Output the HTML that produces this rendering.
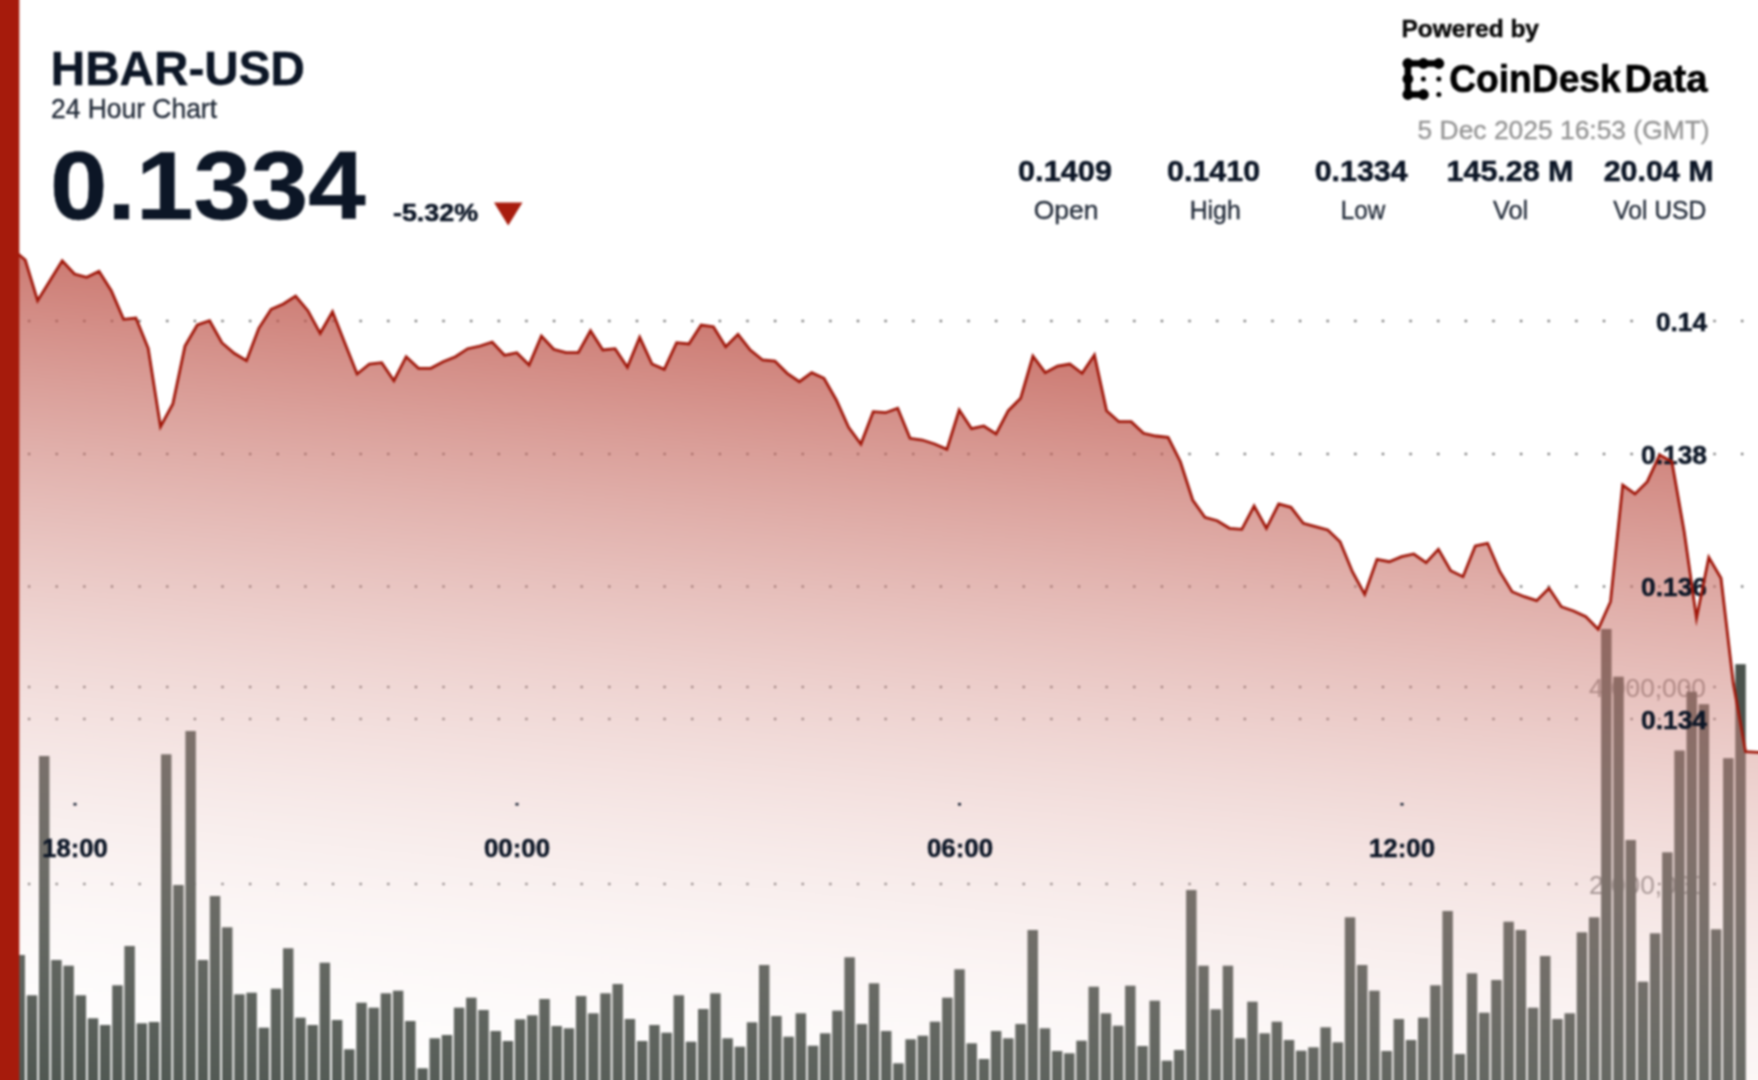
<!DOCTYPE html>
<html><head><meta charset="utf-8"><title>HBAR-USD</title>
<style>
html,body{margin:0;padding:0;background:#fff;}
body{width:1758px;height:1080px;overflow:hidden;font-family:"Liberation Sans",sans-serif;}
svg{display:block;position:absolute;left:-12px;top:-12px;filter:blur(0.85px);}
body{position:relative;}
text{font-family:"Liberation Sans",sans-serif;}
.b{font-weight:bold;}
.navy{fill:#0c1626;stroke:#0c1626;stroke-width:0.5px;}
.reg{fill:#222b39;stroke:#222b39;stroke-width:0.35px;}
</style></head><body>
<svg width="1782" height="1104" viewBox="-12 -12 1782 1104">
<defs>
<linearGradient id="ag" gradientUnits="userSpaceOnUse" x1="1758" y1="187" x2="1648.6" y2="1281">
<stop offset="0" stop-color="rgb(168,28,14)" stop-opacity="0.95"/>
<stop offset="1" stop-color="rgb(255,255,255)" stop-opacity="0"/>
</linearGradient>
</defs>
<rect x="-12" y="-12" width="1782" height="1104" fill="#fff"/>
<!-- grid -->
<g stroke="#666" stroke-width="2.5" stroke-linecap="round" stroke-dasharray="0.01 27.62" fill="none">
<path d="M29.1,321 H1772"/><path d="M29.1,454 H1772"/><path d="M29.1,586.5 H1772"/><path d="M29.1,719 H1772"/>
<path d="M29.1,687 H1772"/><path d="M29.1,884 H1772"/>
</g>
<!-- volume labels -->
<g fill="#8d8d8d" font-size="26" text-anchor="end">
<text x="1706" y="696.5" textLength="117" lengthAdjust="spacingAndGlyphs">4,000,000</text>
<text x="1706" y="893.5" textLength="117" lengthAdjust="spacingAndGlyphs">2,000,000</text>
</g>
<!-- bars -->
<g fill="#4a524c"><rect x="14.5" y="955" width="10.45" height="139"/><rect x="26.8" y="995.3" width="10.45" height="98.7"/><rect x="39" y="756" width="10.45" height="338"/><rect x="51.2" y="960" width="10.45" height="134"/><rect x="63.4" y="965.7" width="10.45" height="128.3"/><rect x="75.6" y="995.3" width="10.45" height="98.7"/><rect x="87.8" y="1018.3" width="10.45" height="75.7"/><rect x="100" y="1025" width="10.45" height="69"/><rect x="112.2" y="985.3" width="10.45" height="108.7"/><rect x="124.4" y="946" width="10.45" height="148"/><rect x="136.6" y="1023.3" width="10.45" height="70.7"/><rect x="148.8" y="1022" width="10.45" height="72"/><rect x="161" y="754.3" width="10.45" height="339.7"/><rect x="173.2" y="885" width="10.45" height="209"/><rect x="185.4" y="731" width="10.45" height="363"/><rect x="197.6" y="960" width="10.45" height="134"/><rect x="209.8" y="896" width="10.45" height="198"/><rect x="222" y="927.3" width="10.45" height="166.7"/><rect x="234.2" y="994.3" width="10.45" height="99.7"/><rect x="246.4" y="992.7" width="10.45" height="101.3"/><rect x="258.6" y="1027.7" width="10.45" height="66.3"/><rect x="270.8" y="988.7" width="10.45" height="105.3"/><rect x="283" y="948.3" width="10.45" height="145.7"/><rect x="295.2" y="1017.7" width="10.45" height="76.3"/><rect x="307.4" y="1025" width="10.45" height="69"/><rect x="319.6" y="962.7" width="10.45" height="131.3"/><rect x="331.9" y="1020" width="10.45" height="74"/><rect x="344.1" y="1049.3" width="10.45" height="44.7"/><rect x="356.3" y="1002.7" width="10.45" height="91.3"/><rect x="368.5" y="1007.7" width="10.45" height="86.3"/><rect x="380.7" y="993.3" width="10.45" height="100.7"/><rect x="392.9" y="990.7" width="10.45" height="103.3"/><rect x="405.1" y="1021" width="10.45" height="73"/><rect x="417.3" y="1068.3" width="10.45" height="25.7"/><rect x="429.5" y="1038.3" width="10.45" height="55.7"/><rect x="441.7" y="1035" width="10.45" height="59"/><rect x="453.9" y="1007.7" width="10.45" height="86.3"/><rect x="466.1" y="997.7" width="10.45" height="96.3"/><rect x="478.3" y="1010" width="10.45" height="84"/><rect x="490.5" y="1031" width="10.45" height="63"/><rect x="502.7" y="1041" width="10.45" height="53"/><rect x="514.9" y="1019.3" width="10.45" height="74.7"/><rect x="527.1" y="1015.3" width="10.45" height="78.7"/><rect x="539.3" y="999" width="10.45" height="95"/><rect x="551.5" y="1026" width="10.45" height="68"/><rect x="563.7" y="1028.3" width="10.45" height="65.7"/><rect x="575.9" y="996" width="10.45" height="98"/><rect x="588.1" y="1013.3" width="10.45" height="80.7"/><rect x="600.3" y="993.3" width="10.45" height="100.7"/><rect x="612.5" y="984" width="10.45" height="110"/><rect x="624.7" y="1019" width="10.45" height="75"/><rect x="637" y="1041" width="10.45" height="53"/><rect x="649.2" y="1025" width="10.45" height="69"/><rect x="661.4" y="1032.7" width="10.45" height="61.3"/><rect x="673.6" y="995.3" width="10.45" height="98.7"/><rect x="685.8" y="1041.7" width="10.45" height="52.3"/><rect x="698" y="1009" width="10.45" height="85"/><rect x="710.2" y="993.3" width="10.45" height="100.7"/><rect x="722.4" y="1038.3" width="10.45" height="55.7"/><rect x="734.6" y="1046.7" width="10.45" height="47.3"/><rect x="746.8" y="1022.3" width="10.45" height="71.7"/><rect x="759" y="965" width="10.45" height="129"/><rect x="771.2" y="1016" width="10.45" height="78"/><rect x="783.4" y="1036.7" width="10.45" height="57.3"/><rect x="795.6" y="1013.3" width="10.45" height="80.7"/><rect x="807.8" y="1045.7" width="10.45" height="48.3"/><rect x="820" y="1033.3" width="10.45" height="60.7"/><rect x="832.2" y="1010.7" width="10.45" height="83.3"/><rect x="844.4" y="957.3" width="10.45" height="136.7"/><rect x="856.6" y="1024" width="10.45" height="70"/><rect x="868.8" y="983.3" width="10.45" height="110.7"/><rect x="881" y="1031" width="10.45" height="63"/><rect x="893.2" y="1063.3" width="10.45" height="30.7"/><rect x="905.4" y="1039.3" width="10.45" height="54.7"/><rect x="917.6" y="1035.7" width="10.45" height="58.3"/><rect x="929.8" y="1021.7" width="10.45" height="72.3"/><rect x="942.1" y="997.7" width="10.45" height="96.3"/><rect x="954.3" y="969.3" width="10.45" height="124.7"/><rect x="966.5" y="1043.3" width="10.45" height="50.7"/><rect x="978.7" y="1059" width="10.45" height="35"/><rect x="990.9" y="1031" width="10.45" height="63"/><rect x="1003.1" y="1038.3" width="10.45" height="55.7"/><rect x="1015.3" y="1024" width="10.45" height="70"/><rect x="1027.5" y="930" width="10.45" height="164"/><rect x="1039.7" y="1028.3" width="10.45" height="65.7"/><rect x="1051.9" y="1051" width="10.45" height="43"/><rect x="1064.1" y="1053.3" width="10.45" height="40.7"/><rect x="1076.3" y="1040.7" width="10.45" height="53.3"/><rect x="1088.5" y="986.7" width="10.45" height="107.3"/><rect x="1100.7" y="1013.3" width="10.45" height="80.7"/><rect x="1112.9" y="1025.7" width="10.45" height="68.3"/><rect x="1125.1" y="985.7" width="10.45" height="108.3"/><rect x="1137.3" y="1046" width="10.45" height="48"/><rect x="1149.5" y="1000.7" width="10.45" height="93.3"/><rect x="1161.7" y="1060.7" width="10.45" height="33.3"/><rect x="1173.9" y="1050" width="10.45" height="44"/><rect x="1186.1" y="890" width="10.45" height="204"/><rect x="1198.3" y="965.7" width="10.45" height="128.3"/><rect x="1210.5" y="1009.3" width="10.45" height="84.7"/><rect x="1222.7" y="965.7" width="10.45" height="128.3"/><rect x="1234.9" y="1038.3" width="10.45" height="55.7"/><rect x="1247.2" y="1001.7" width="10.45" height="92.3"/><rect x="1259.4" y="1033.3" width="10.45" height="60.7"/><rect x="1271.6" y="1021.7" width="10.45" height="72.3"/><rect x="1283.8" y="1040" width="10.45" height="54"/><rect x="1296" y="1050.7" width="10.45" height="43.3"/><rect x="1308.2" y="1047.3" width="10.45" height="46.7"/><rect x="1320.4" y="1027.3" width="10.45" height="66.7"/><rect x="1332.6" y="1042.3" width="10.45" height="51.7"/><rect x="1344.8" y="917.3" width="10.45" height="176.7"/><rect x="1357" y="965" width="10.45" height="129"/><rect x="1369.2" y="990.7" width="10.45" height="103.3"/><rect x="1381.4" y="1051" width="10.45" height="43"/><rect x="1393.6" y="1019" width="10.45" height="75"/><rect x="1405.8" y="1040" width="10.45" height="54"/><rect x="1418" y="1017.7" width="10.45" height="76.3"/><rect x="1430.2" y="985.3" width="10.45" height="108.7"/><rect x="1442.4" y="911" width="10.45" height="183"/><rect x="1454.6" y="1054" width="10.45" height="40"/><rect x="1466.8" y="973.3" width="10.45" height="120.7"/><rect x="1479" y="1012.7" width="10.45" height="81.3"/><rect x="1491.2" y="980" width="10.45" height="114"/><rect x="1503.4" y="921.7" width="10.45" height="172.3"/><rect x="1515.6" y="930" width="10.45" height="164"/><rect x="1527.8" y="1007.7" width="10.45" height="86.3"/><rect x="1540" y="956" width="10.45" height="138"/><rect x="1552.2" y="1019" width="10.45" height="75"/><rect x="1564.5" y="1013.3" width="10.45" height="80.7"/><rect x="1576.7" y="932.3" width="10.45" height="161.7"/><rect x="1588.9" y="917.3" width="10.45" height="176.7"/><rect x="1601.1" y="629" width="10.45" height="465"/><rect x="1613.3" y="676.7" width="10.45" height="417.3"/><rect x="1625.5" y="840" width="10.45" height="254"/><rect x="1637.7" y="981.7" width="10.45" height="112.3"/><rect x="1649.9" y="933.3" width="10.45" height="160.7"/><rect x="1662.1" y="852.3" width="10.45" height="241.7"/><rect x="1674.3" y="750.5" width="10.45" height="343.5"/><rect x="1686.5" y="691.7" width="10.45" height="402.3"/><rect x="1698.7" y="704.2" width="10.45" height="389.8"/><rect x="1710.9" y="929.3" width="10.45" height="164.7"/><rect x="1723.1" y="758.2" width="10.45" height="335.8"/><rect x="1735.3" y="664.2" width="10.45" height="429.8"/></g>
<!-- area -->
<path d="M14.5,251 L25.3,260 L37.6,300.7 L49.9,280.7 L62.2,260.7 L74.5,274 L86.7,277.3 L99,271.3 L111.3,290.7 L123.6,319.3 L135.9,318 L148.2,348.3 L160.5,426.7 L172.8,404 L185,346 L197.3,325 L209.6,320.7 L221.9,342.7 L234.2,353.3 L246.5,360.7 L258.8,328.3 L271.1,309.3 L283.3,304 L295.6,296 L307.9,310.7 L320.2,333.3 L332.5,311.7 L344.8,343 L357.1,374 L369.4,364 L381.7,362.7 L393.9,380.7 L406.2,356.7 L418.5,368.3 L430.8,368.3 L443.1,361.7 L455.4,356.7 L467.7,348.7 L480,346 L492.2,342 L504.5,355.3 L516.8,352.7 L529.1,365 L541.4,336 L553.7,349.3 L566,352.7 L578.3,352.7 L590.5,330.7 L602.8,350 L615.1,348.7 L627.4,367.3 L639.7,337.3 L652,364 L664.3,369.3 L676.6,342.7 L688.9,344 L701.1,325 L713.4,326.7 L725.7,346.7 L738,334.3 L750.3,350 L762.6,360 L774.9,361 L787.2,373.3 L799.4,381.7 L811.7,372.7 L824,378.3 L836.3,400 L848.6,427.3 L860.9,444 L873.2,411.7 L885.5,412.7 L897.7,408.3 L910,438.3 L922.3,440 L934.6,444 L946.9,449.3 L959.2,410 L971.5,428.7 L983.8,426 L996.1,434 L1008.3,410.7 L1020.6,398.3 L1032.9,356 L1045.2,372.7 L1057.5,366 L1069.8,364 L1082.1,373.3 L1094.4,355 L1106.6,410.7 L1118.9,421.7 L1131.2,421.7 L1143.5,433.3 L1155.8,436 L1168.1,437.3 L1180.4,461.7 L1192.7,500 L1204.9,517.3 L1217.2,520.7 L1229.5,528.3 L1241.8,529.3 L1254.1,506 L1266.4,528.3 L1278.7,504 L1291,507.3 L1303.3,523.3 L1315.5,526.7 L1327.8,530 L1340.1,541.7 L1352.4,571.7 L1364.7,594.3 L1377,559.3 L1389.3,561.7 L1401.6,556.7 L1413.8,554 L1426.1,562.7 L1438.4,549.3 L1450.7,570.7 L1463,576.7 L1475.3,546 L1487.6,543.3 L1499.9,571.7 L1512.1,591.7 L1524.4,596.7 L1536.7,600.7 L1549,588.3 L1561.3,606.7 L1573.6,611 L1585.9,616.7 L1598.2,629.3 L1610.5,601.7 L1622.7,485 L1635,494 L1647.3,481.7 L1659.6,455 L1671.9,461.7 L1684.2,531.7 L1696.5,618.3 L1708.8,557.3 L1721,578.3 L1733.3,683.3 L1745.6,751.7 L1757.9,752.3 L1772,752.3 L1772,1094 L14.5,1094 Z" fill="url(#ag)"/>
<!-- x ticks -->
<g fill="#101b2d"><rect x="73.5" y="803" width="3" height="2.5"/><rect x="515.5" y="803" width="3" height="2.5"/><rect x="958" y="803" width="3" height="2.5"/><rect x="1400.5" y="803" width="3" height="2.5"/></g>
<g class="b navy" font-size="26.6" text-anchor="middle">
<text x="75" y="856.5" textLength="65.5" lengthAdjust="spacingAndGlyphs">18:00</text>
<text x="517" y="856.5" textLength="66" lengthAdjust="spacingAndGlyphs">00:00</text>
<text x="960" y="856.5" textLength="66" lengthAdjust="spacingAndGlyphs">06:00</text>
<text x="1402" y="856.5" textLength="66" lengthAdjust="spacingAndGlyphs">12:00</text>
</g>
<!-- price labels -->
<g class="b navy" font-size="26" text-anchor="end">
<text x="1707" y="331" textLength="51" lengthAdjust="spacingAndGlyphs">0.14</text>
<text x="1707" y="463.5" textLength="66" lengthAdjust="spacingAndGlyphs">0.138</text>
<text x="1707" y="596" textLength="66" lengthAdjust="spacingAndGlyphs">0.136</text>
<text x="1707" y="728.5" textLength="66" lengthAdjust="spacingAndGlyphs">0.134</text>
</g>
<!-- line -->
<path d="M14.5,251 L25.3,260 L37.6,300.7 L49.9,280.7 L62.2,260.7 L74.5,274 L86.7,277.3 L99,271.3 L111.3,290.7 L123.6,319.3 L135.9,318 L148.2,348.3 L160.5,426.7 L172.8,404 L185,346 L197.3,325 L209.6,320.7 L221.9,342.7 L234.2,353.3 L246.5,360.7 L258.8,328.3 L271.1,309.3 L283.3,304 L295.6,296 L307.9,310.7 L320.2,333.3 L332.5,311.7 L344.8,343 L357.1,374 L369.4,364 L381.7,362.7 L393.9,380.7 L406.2,356.7 L418.5,368.3 L430.8,368.3 L443.1,361.7 L455.4,356.7 L467.7,348.7 L480,346 L492.2,342 L504.5,355.3 L516.8,352.7 L529.1,365 L541.4,336 L553.7,349.3 L566,352.7 L578.3,352.7 L590.5,330.7 L602.8,350 L615.1,348.7 L627.4,367.3 L639.7,337.3 L652,364 L664.3,369.3 L676.6,342.7 L688.9,344 L701.1,325 L713.4,326.7 L725.7,346.7 L738,334.3 L750.3,350 L762.6,360 L774.9,361 L787.2,373.3 L799.4,381.7 L811.7,372.7 L824,378.3 L836.3,400 L848.6,427.3 L860.9,444 L873.2,411.7 L885.5,412.7 L897.7,408.3 L910,438.3 L922.3,440 L934.6,444 L946.9,449.3 L959.2,410 L971.5,428.7 L983.8,426 L996.1,434 L1008.3,410.7 L1020.6,398.3 L1032.9,356 L1045.2,372.7 L1057.5,366 L1069.8,364 L1082.1,373.3 L1094.4,355 L1106.6,410.7 L1118.9,421.7 L1131.2,421.7 L1143.5,433.3 L1155.8,436 L1168.1,437.3 L1180.4,461.7 L1192.7,500 L1204.9,517.3 L1217.2,520.7 L1229.5,528.3 L1241.8,529.3 L1254.1,506 L1266.4,528.3 L1278.7,504 L1291,507.3 L1303.3,523.3 L1315.5,526.7 L1327.8,530 L1340.1,541.7 L1352.4,571.7 L1364.7,594.3 L1377,559.3 L1389.3,561.7 L1401.6,556.7 L1413.8,554 L1426.1,562.7 L1438.4,549.3 L1450.7,570.7 L1463,576.7 L1475.3,546 L1487.6,543.3 L1499.9,571.7 L1512.1,591.7 L1524.4,596.7 L1536.7,600.7 L1549,588.3 L1561.3,606.7 L1573.6,611 L1585.9,616.7 L1598.2,629.3 L1610.5,601.7 L1622.7,485 L1635,494 L1647.3,481.7 L1659.6,455 L1671.9,461.7 L1684.2,531.7 L1696.5,618.3 L1708.8,557.3 L1721,578.3 L1733.3,683.3 L1745.6,751.7 L1757.9,752.3 L1772,752.3" fill="none" stroke="#a0170a" stroke-width="2.8" stroke-linejoin="miter" stroke-miterlimit="10" stroke-linecap="butt"/>
<!-- left red bar -->
<rect x="-12" y="-12" width="31.3" height="1104" fill="#a61b0c"/>
<!-- header left -->
<text class="b navy" x="50.8" y="85" font-size="48" textLength="254" lengthAdjust="spacingAndGlyphs">HBAR-USD</text>
<text class="reg" x="51" y="117.5" font-size="27.5" textLength="166" lengthAdjust="spacingAndGlyphs">24 Hour Chart</text>
<text class="b navy" x="50" y="219.4" font-size="96.5" textLength="315.5" lengthAdjust="spacingAndGlyphs">0.1334</text>
<text class="b navy" x="393" y="221" font-size="24" textLength="85" lengthAdjust="spacingAndGlyphs">-5.32%</text>
<path d="M494,202.5 L522.5,202.5 L508.2,225.5 Z" fill="#a81c0e"/>
<!-- header right -->
<text class="b" x="1401.5" y="37" font-size="24" fill="#0a0a0a" stroke="#0a0a0a" stroke-width="0.5" textLength="137.5" lengthAdjust="spacingAndGlyphs">Powered by</text>
<g fill="#000" stroke="#000">
<path d="M1438.8,63.5 H1407.9 V94.5 H1423.4" fill="none" stroke-width="6.6" stroke-linecap="round" stroke-linejoin="round"/>
<g stroke="none">
<circle cx="1407.9" cy="63.5" r="5.4"/><circle cx="1423.4" cy="63.5" r="5.4"/><circle cx="1438.8" cy="63.5" r="5.4"/>
<circle cx="1407.9" cy="79" r="5.4"/><circle cx="1407.9" cy="94.5" r="5.4"/><circle cx="1423.4" cy="94.5" r="5.4"/>
<circle cx="1423.4" cy="79" r="2.5"/><circle cx="1438.8" cy="79" r="2.5"/><circle cx="1438.8" cy="94.5" r="2.5"/>
</g></g>
<text class="b" x="1449.3" y="92.3" font-size="39.5" fill="#000" stroke="#000" stroke-width="0.6" textLength="171.3" lengthAdjust="spacingAndGlyphs">CoinDesk</text>
<text class="b" x="1624.6" y="92.3" font-size="39.5" fill="#000" stroke="#000" stroke-width="0.6" textLength="83" lengthAdjust="spacingAndGlyphs">Data</text>
<text x="1709.6" y="138.5" font-size="26.5" fill="#939393" stroke="#939393" stroke-width="0.3" text-anchor="end" textLength="292" lengthAdjust="spacingAndGlyphs">5 Dec 2025 16:53 (GMT)</text>
<!-- stats -->
<g class="b navy" font-size="29.3" text-anchor="middle">
<text x="1065" y="180.5" textLength="94" lengthAdjust="spacingAndGlyphs">0.1409</text>
<text x="1213.6" y="180.5" textLength="93" lengthAdjust="spacingAndGlyphs">0.1410</text>
<text x="1361.2" y="180.5" textLength="93" lengthAdjust="spacingAndGlyphs">0.1334</text>
<text x="1510" y="180.5" textLength="127" lengthAdjust="spacingAndGlyphs">145.28 M</text>
<text x="1658.7" y="180.5" textLength="110" lengthAdjust="spacingAndGlyphs">20.04 M</text>
</g>
<g class="reg" font-size="26.5" text-anchor="middle">
<text x="1066" y="219.3" textLength="64.7" lengthAdjust="spacingAndGlyphs">Open</text>
<text x="1215.2" y="219.3" textLength="51" lengthAdjust="spacingAndGlyphs">High</text>
<text x="1363" y="219.3" textLength="44.4" lengthAdjust="spacingAndGlyphs">Low</text>
<text x="1510.6" y="219.3" textLength="35.3" lengthAdjust="spacingAndGlyphs">Vol</text>
<text x="1659.8" y="219.3" textLength="93" lengthAdjust="spacingAndGlyphs">Vol USD</text>
</g>
</svg>
</body></html>
